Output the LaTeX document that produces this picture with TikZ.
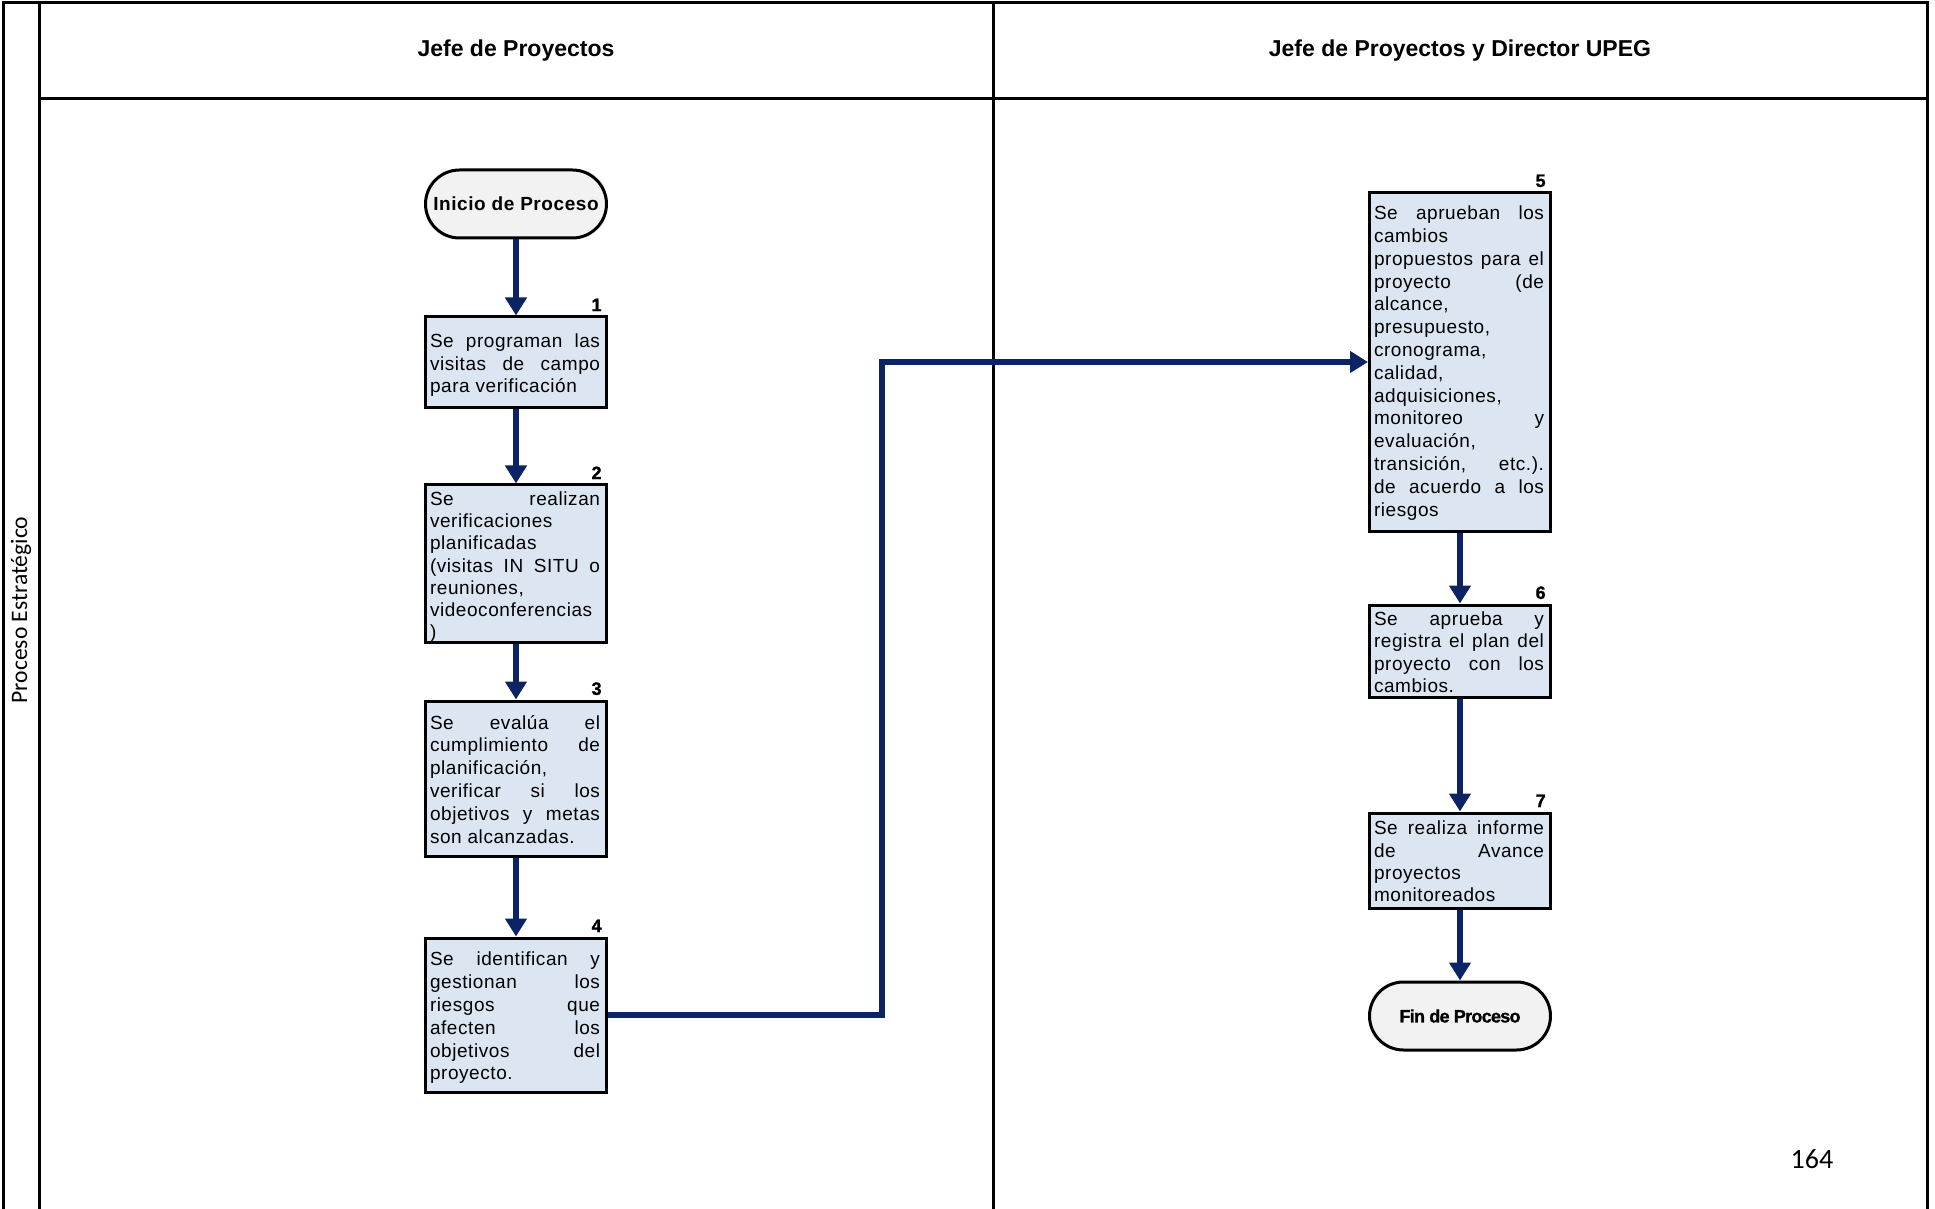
\documentclass[tikz,border=0pt]{standalone}
\usepackage{fontspec}
\setmainfont{Liberation Sans}
\newfontfamily\stepfont[LetterSpace=3]{Liberation Sans}
\newfontfamily\headfont{Liberation Sans}
\newfontfamily\heavyfont[LetterSpace=-4,BoldFeatures={FakeBold=1.2}]{Liberation Sans}
\newfontfamily\sidefont{Carlito}
\usetikzlibrary{arrows.meta}
\definecolor{flowblue}{RGB}{12,36,100}
\definecolor{boxblue}{RGB}{220,230,242}
\definecolor{termgray}{RGB}{242,242,242}
\hbadness=10000
\hfuzz=5pt
% justified step description, lines broken as in the chart
\newcommand\steptext[2][11.4]{\parbox[t]{85pt}{\stepfont\fontsize{9.5}{#1}\selectfont #2}}

\begin{document}
\begin{tikzpicture}[x=0.5pt,y=-0.5pt,
  frame/.style={line width=1.5pt},
  proc/.style={draw, line width=1.5pt, fill=boxblue, minimum width=90.5pt, inner sep=0pt},
  term/.style={draw, line width=1.5pt, fill=termgray, minimum width=90.5pt,
               minimum height=34pt, rounded corners=17pt, inner sep=0pt},
  ptext/.style={anchor=north west, inner sep=0pt},
  stepno/.style={anchor=south east, inner sep=0pt, font=\heavyfont\bfseries\fontsize{9}{10}\selectfont},
  flow/.style={draw=flowblue, line width=2.7pt, -{Triangle[width=10.5pt,length=9pt]}},
  lanehead/.style={font=\headfont\bfseries\fontsize{11.5}{13}\selectfont}]

\useasboundingbox (0,0) rectangle (1935,1209);

% swimlane frame
\draw[frame] (3,1209) -- (3,3) -- (1927,3) -- (1927,1209);
\draw[frame] (39,3) -- (39,1209);
\draw[frame] (39,99) -- (1927,99);
\draw[frame] (993,3) -- (993,1209);

\node[lanehead] (h1) at (516,51) {Jefe de Proyectos};
\node[lanehead] (h2) at (1460,51) {Jefe de Proyectos y Director UPEG};
\node[rotate=90, font=\sidefont\fontsize{11.8}{13}\selectfont] (side) at (21,610) {Proceso Estratégico};

% lane 1
\node[term, font=\stepfont\bfseries\fontsize{9.5}{11}\selectfont] (start) at (516,204) {Inicio de Proceso};

\node[proc, minimum height=45.5pt] (b1) at (516,362.5) {};
\node[ptext] (t1) at ([xshift=2.8pt,yshift=-8.8pt]b1.north west)
  {\steptext{Se programan las\linebreak visitas de campo\linebreak para verificación}};
\node[stepno] (n1) at ([xshift=-3pt,yshift=2pt]b1.north east) {1};

\node[proc, minimum height=78.5pt] (b2) at (516,563.5) {};
\node[ptext] (t2) at ([xshift=2.8pt,yshift=-3.9pt]b2.north west)
  {\steptext[11.1]{Se realizan\linebreak verificaciones\\ planificadas\\ (visitas IN SITU o\linebreak reuniones,\\ videoconferencias\\ )}};
\node[stepno] (n2) at ([xshift=-3pt,yshift=2pt]b2.north east) {2};

\node[proc, minimum height=77.5pt] (b3) at (516,778.5) {};
\node[ptext] (t3) at ([xshift=2.8pt,yshift=-7.6pt]b3.north west)
  {\steptext{Se evalúa el\linebreak cumplimiento de\linebreak planificación,\\ verificar si los\linebreak objetivos y metas\linebreak son alcanzadas.}};
\node[stepno] (n3) at ([xshift=-3pt,yshift=2pt]b3.north east) {3};

\node[proc, minimum height=77pt] (b4) at (516,1015) {};
\node[ptext] (t4) at ([xshift=2.8pt,yshift=-7.6pt]b4.north west)
  {\steptext{Se identifican y\linebreak gestionan los\linebreak riesgos que\linebreak afecten los\linebreak objetivos del\linebreak proyecto.}};
\node[stepno] (n4) at ([xshift=-3pt,yshift=2pt]b4.north east) {4};

% lane 2
\node[proc, minimum height=169pt] (b5) at (1460,362) {};
\node[ptext] (t5) at ([xshift=2.8pt,yshift=-7.0pt]b5.north west)
  {\steptext{Se aprueban los\linebreak cambios\\ propuestos para el\linebreak proyecto (de\linebreak alcance,\\ presupuesto,\\ cronograma,\\ calidad,\\ adquisiciones,\\ monitoreo y\linebreak evaluación,\\ transición, etc.).\linebreak de acuerdo a los\linebreak riesgos}};
\node[stepno] (n5) at ([xshift=-3pt,yshift=2pt]b5.north east) {5};

\node[proc, minimum height=46pt] (b6) at (1460,651) {};
\node[ptext] (t6) at ([xshift=2.8pt,yshift=-3.9pt]b6.north west)
  {\steptext[11.2]{Se aprueba y\linebreak registra el plan del\linebreak proyecto con los\linebreak cambios.}};
\node[stepno] (n6) at ([xshift=-3pt,yshift=2pt]b6.north east) {6};

\node[proc, minimum height=47.5pt] (b7) at (1460,860.5) {};
\node[ptext] (t7) at ([xshift=2.8pt,yshift=-4.5pt]b7.north west)
  {\steptext[11.2]{Se realiza informe\linebreak de Avance\linebreak proyectos\\ monitoreados}};
\node[stepno] (n7) at ([xshift=-3pt,yshift=2pt]b7.north east) {7};

\node[term, font=\heavyfont\bfseries\fontsize{9}{11}\selectfont] (fin) at (1460,1016) {Fin de Proceso};

\node[font=\sidefont\fontsize{14}{16}\selectfont] (page) at (1812,1159) {164};

% connectors
\coordinate (bend) at (882,700);
\draw[flow] (start.south) -- (b1.north);
\draw[flow] (b1.south) -- (b2.north);
\draw[flow] (b2.south) -- (b3.north);
\draw[flow] (b3.south) -- (b4.north);
\draw[flow] (b4.east) -| (bend) |- (b5.west);
\draw[flow] (b5.south) -- (b6.north);
\draw[flow] (b6.south) -- (b7.north);
\draw[flow] (b7.south) -- (fin.north);
\end{tikzpicture}
\end{document}
